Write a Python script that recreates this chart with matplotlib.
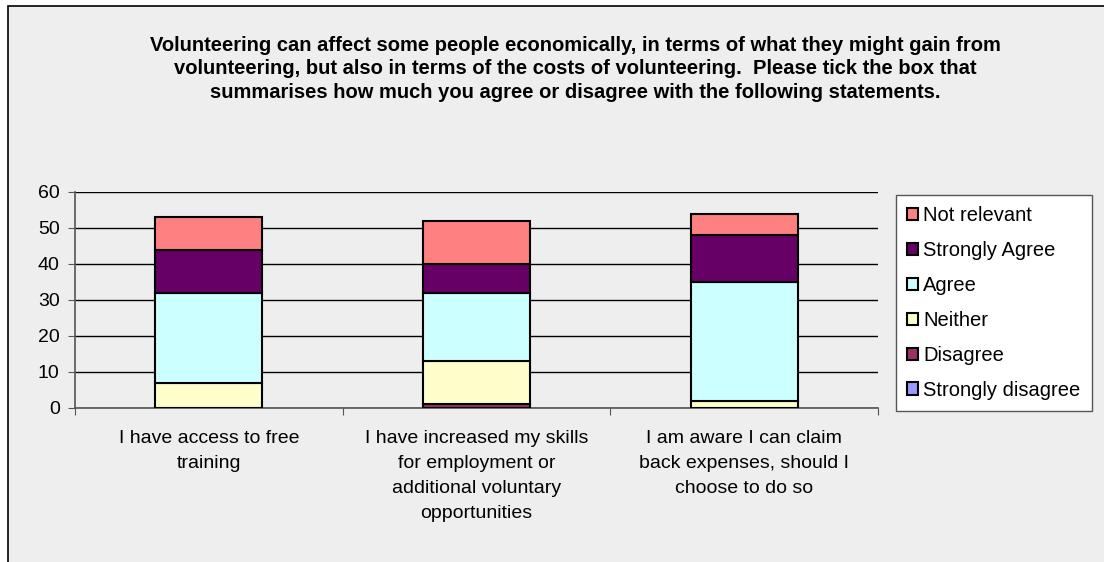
import matplotlib.pyplot as plt
import numpy as np
from matplotlib.patches import Rectangle

plt.rcParams['font.family'] = ['Liberation Sans', 'DejaVu Sans']

categories = ["I have access to free\ntraining",
              "I have increased my skills\nfor employment or\nadditional voluntary\nopportunities",
              "I am aware I can claim\nback expenses, should I\nchoose to do so"]
series_names = ["Strongly disagree", "Disagree", "Neither", "Agree", "Strongly Agree", "Not relevant"]
strongly_disagree = [0, 0, 0]
disagree = [0, 1, 0]
neither = [7, 12, 2]
agree = [25, 19, 33]
strongly_agree = [12, 8, 13]
not_relevant = [9, 12, 6]
colors = ["#9999FF", "#993366", "#FFFFCC", "#CCFFFF", "#660066", "#FF8080"]

title = ("Volunteering can affect some people economically, in terms of what they might gain from\n"
         "volunteering, but also in terms of the costs of volunteering.  Please tick the box that\n"
         "summarises how much you agree or disagree with the following statements.")

fig = plt.figure(figsize=(11.04, 5.62), dpi=100)
fig.patch.set_facecolor("white")
# grey chart frame, cut off at right and bottom
fig.patches.append(Rectangle((8 / 1104, -0.05), 1.1, 1 - 6 / 562 + 0.05, transform=fig.transFigure,
                             facecolor="#EEEEEE", edgecolor="black", linewidth=1.2, zorder=-5))

ax = fig.add_axes([75 / 1104, 1 - 408 / 562, 803 / 1104, 216 / 562])
ax.set_facecolor("none")

x = np.arange(len(categories))
bottom = np.zeros(len(categories))
handles = []
for name, vals, c in zip(series_names,
                         [strongly_disagree, disagree, neither, agree, strongly_agree, not_relevant],
                         colors):
    vals = np.array(vals, dtype=float)
    b = ax.bar(x, vals, 0.4, bottom=bottom, color=c, edgecolor="black", linewidth=1.5,
               label=name, zorder=3)
    handles.append(b)
    bottom += vals

ax.set_xlim(-0.5, 2.5)
ax.set_ylim(0, 60)
ax.set_yticks(range(0, 61, 10))
ax.yaxis.grid(True, color="black", linewidth=1, zorder=0)
ax.set_axisbelow(True)
ax.tick_params(axis="y", labelsize=14, length=5, color="#555555", pad=6)
ax.set_xticks([-0.5, 0.5, 1.5, 2.5])
ax.set_xticklabels([])
ax.set_xticks(x, minor=True)
ax.set_xticklabels(categories, minor=True, fontsize=14, linespacing=1.6)
ax.tick_params(axis="x", which="major", length=5, color="#555555")
ax.tick_params(axis="x", which="minor", length=0, pad=16)
for s in ["top", "right"]:
    ax.spines[s].set_visible(False)
for s in ["left", "bottom"]:
    ax.spines[s].set_color("#555555")
    ax.spines[s].set_linewidth(1.2)

fig.text(575 / 1104, 1 - 36 / 562, title, ha="center", va="top", fontsize=14.5,
         fontweight="bold", linespacing=1.3)

leg = fig.legend(handles[::-1], series_names[::-1], loc="upper left",
                 bbox_to_anchor=(896 / 1104, 1 - 195 / 562), fontsize=14.5,
                 frameon=True, fancybox=False, edgecolor="#555555", framealpha=1,
                 handlelength=0.55, handleheight=0.55, handletextpad=0.25,
                 labelspacing=0.79, borderpad=0.55, borderaxespad=0)
leg.get_frame().set_linewidth(1)

fig.savefig("out.png", dpi=100)
